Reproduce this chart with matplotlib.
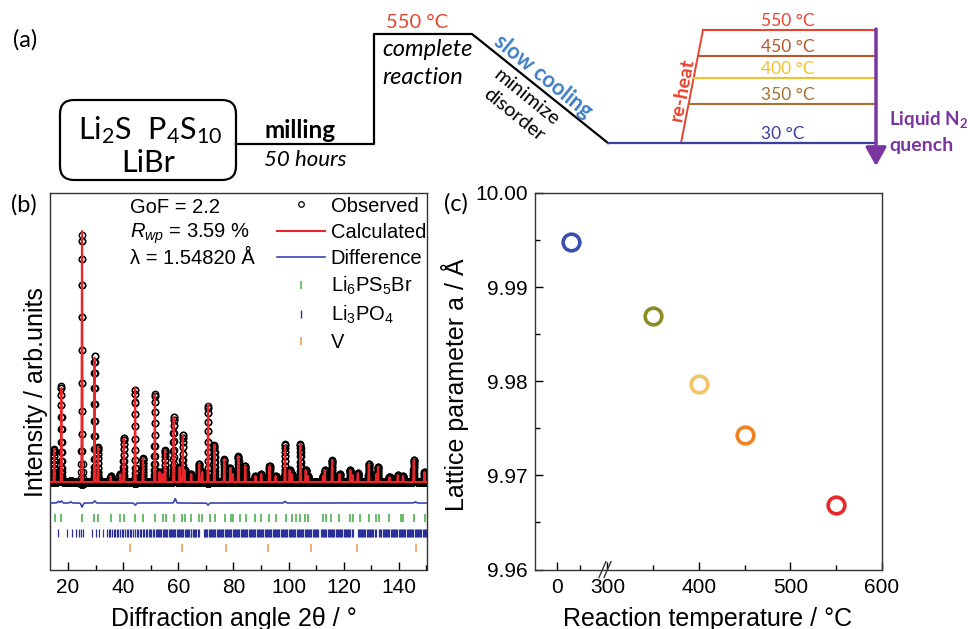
import numpy as np
import matplotlib
matplotlib.use('Agg')
import matplotlib.pyplot as plt
from matplotlib.lines import Line2D
from matplotlib.patches import FancyBboxPatch

plt.rcParams['font.family'] = ['Liberation Sans', 'DejaVu Sans']
plt.rcParams['mathtext.fontset'] = 'custom'
plt.rcParams['mathtext.rm'] = 'Liberation Sans'
plt.rcParams['mathtext.it'] = 'Liberation Sans:italic'
plt.rcParams['mathtext.bf'] = 'Liberation Sans:bold'

# ---- (b) refinement: peak positions (2theta) and heights (counts above background)
peak_pos = [15.0, 17.6, 25.1, 29.65, 30.9, 35.5, 39.0, 40.25, 44.35, 47.2, 51.5, 53.2,
            54.3, 55.2, 58.35, 60.5, 61.65, 62.3, 64.7, 67.6, 68.7, 70.8, 73.1, 76.7,
            78.9, 79.8, 81.8, 84.3, 88.0, 90.1, 93.1, 95.3, 98.7, 100.4, 101.2, 104.3,
            106.2, 107.0, 112.5, 113.1, 115.8, 118.5, 122.4, 123.3, 125.1, 129.1, 131.8,
            132.4, 136.6, 139.6, 141.5, 145.4, 149.3]
peak_height = [825, 2350, 6275, 3125, 875, 150, 200, 1100, 2375, 600, 2200, 250,
               200, 800, 1625, 375, 1175, 300, 200, 450, 250, 1950, 925, 575,
               350, 200, 650, 400, 150, 200, 400, 150, 900, 300, 200, 950,
               300, 150, 150, 300, 550, 200, 300, 175, 225, 450, 200,
               375, 125, 175, 150, 550, 250]
background = 1000
misfit_pos = [16.5, 17.6, 21.0, 25.1, 29.7, 44.4, 58.9, 70.8, 98.7, 146.0]
misfit_amp = [40, 50, 30, -100, 50, -50, 110, -50, 40, 30]
diff_level = 475

li6ps5br_ticks = [15.3, 17.5, 25.0, 29.6, 30.8, 35.5, 39.0, 40.2, 44.3, 47.2, 51.5, 54.3,
                  55.5, 58.4, 61.5, 62.3, 64.7, 67.5, 68.7, 71.4, 73.2, 76.8, 79.0, 79.8,
                  82.3, 84.7, 88.0, 90.1, 92.9, 95.3, 99.2, 101.2, 102.6, 104.0, 106.1,
                  107.0, 112.5, 113.7, 115.5, 118.2, 122.1, 123.3, 125.8, 129.0, 131.8,
                  132.7, 136.6, 140.6, 141.5, 145.5, 149.3]
li3po4_ticks = [16.3, 19.5, 21.4, 22.8, 23.9, 24.7, 25.6, 28.9, 30.3, 31.4, 32.6,
                34.1, 34.8, 35.3, 36.0, 36.6, 37.2, 37.9, 38.3, 38.9, 39.6, 40.1, 40.8,
                41.3, 41.9, 42.6, 43.0, 43.7, 44.2, 44.9, 45.5, 46.0, 46.4, 47.1, 47.6,
                48.2, 48.7, 49.3, 49.8, 50.2, 50.9, 51.3, 51.8, 52.2, 52.6, 53.1, 53.5,
                53.9, 54.4, 54.8, 55.3, 55.6, 56.1, 56.5, 56.9, 57.4, 57.8, 58.1, 58.6,
                59.0, 59.4, 59.9, 60.2, 60.7, 61.1, 61.5, 61.9, 62.4, 62.7, 63.2, 63.6,
                64.0, 64.5, 64.8, 65.3, 65.7, 66.1, 66.6, 67.0, 67.4,
                69.3, 69.7, 70.2, 70.5, 71.0, 71.4, 71.8, 72.3, 72.6, 73.1, 73.5, 73.9,
                74.3, 74.7, 75.2, 75.5, 76.0, 76.4, 76.8, 77.2, 77.6, 78.1, 78.4, 78.9,
                79.3, 79.7, 80.1, 80.5, 81.0, 81.3, 81.8, 82.2, 82.6, 83.0, 83.4, 83.9,
                84.2, 84.7, 85.1, 85.5, 85.9, 86.3, 86.8, 87.1, 87.6, 88.0, 88.4, 88.8,
                89.2, 89.7, 90.0, 90.5, 90.9, 91.3, 91.7, 92.1, 92.6, 92.9, 93.4, 93.8,
                94.2, 94.6, 95.0, 95.5, 95.8, 96.3, 96.7, 97.1, 97.5, 97.9, 98.4, 98.7,
                99.2, 99.6, 100.0, 100.4, 100.8, 101.3, 101.6, 102.1, 102.5, 102.9,
                103.3, 103.7, 104.2, 104.5, 105.0, 105.4, 105.8, 106.2, 106.6, 107.1,
                107.4, 107.9, 108.3, 108.7, 109.1, 109.5, 110.0, 110.3, 110.8, 111.6,
                112.0, 112.5, 112.9, 113.3, 113.7, 114.2, 114.5, 115.0, 115.4, 115.8,
                116.2, 116.6, 117.1, 117.4, 117.9, 118.3, 118.7, 119.1, 119.5, 120.0,
                120.3, 120.8, 121.2, 121.6, 122.0, 122.4, 122.9, 123.2, 125.0, 125.4,
                125.9, 126.2, 126.7, 127.1, 127.5, 127.9, 128.3, 128.8, 129.1, 129.6,
                130.0, 130.4, 130.8, 131.2, 131.6, 132.9, 133.3, 133.7, 134.1, 134.6,
                134.9, 135.4, 135.8, 136.2, 136.6, 137.0, 137.5, 137.8, 138.3, 138.7,
                139.1, 139.5, 139.9, 140.4, 140.7, 141.2, 141.6, 142.0, 142.4, 142.8,
                143.3, 143.6, 144.1, 144.5, 144.9, 145.3, 145.7, 146.2, 146.5, 147.0,
                147.4, 147.8, 148.2, 148.6, 149.1, 149.4, 149.9]
v_ticks = [42.4, 61.4, 77.4, 92.6, 108.0, 124.8, 146.1]

# ---- (c) lattice parameter vs reaction temperature
temps = [30, 350, 400, 450, 550]
lattice_a = [9.9948, 9.9869, 9.9797, 9.9743, 9.9669]
point_colors = ['#3a4fb0', '#8c8c28', '#f2c464', '#f08224', '#e8282a']

# ---- (a) schematic quench temperatures
quench_labels = ['550 °C', '450 °C', '400 °C', '350 °C', '30 °C']
quench_colors = ['#e8432e', '#b5582a', '#f2c12e', '#a7702f', '#3b3fa0']
quench_levels_px = [30, 56, 78, 104, 143]

fig = plt.figure(figsize=(9.68, 6.29), dpi=100)

# ================= panel (a), drawn in pixel coordinates
axa = fig.add_axes([0, 0, 1, 1])
axa.set_xlim(0, 968)
axa.set_ylim(629, 0)
axa.axis('off')
fa = 'Lato'

axa.text(25, 40, '(a)', family=fa, fontsize=17, ha='center', va='center')
axa.add_patch(FancyBboxPatch((60, 100), 176, 80, boxstyle='round,pad=0,rounding_size=14',
                             fill=False, lw=1.6, ec='k'))
axa.text(150, 130, r'$\mathregular{Li_2S\ \ P_4S_{10}}$', family=fa, fontsize=22,
         ha='center', va='center')
axa.text(148, 163, 'LiBr', family=fa, fontsize=22, ha='center', va='center')
axa.plot([236, 374, 374, 472, 608], [144, 144, 34, 34, 143], color='k', lw=1.6)
axa.text(264, 130, 'milling', family=fa, fontsize=17.5, fontweight='bold', va='center')
axa.text(264, 160, '50 hours', family=fa, fontsize=16, style='italic', va='center')
axa.text(417, 23, '550 °C', family=fa, fontsize=14.5, color='#e8432e', ha='center', va='center')
axa.text(382, 49, 'complete', family=fa, fontsize=17, style='italic', va='center')
axa.text(382, 77, 'reaction', family=fa, fontsize=17, style='italic', va='center')
axa.text(543, 76, 'slow cooling', family=fa, fontsize=15.5, fontweight='bold', color='#3f7fc2',
         ha='center', va='center', rotation=-39, rotation_mode='anchor')
axa.text(527, 97, 'minimize', family=fa, fontsize=14.5, ha='center', va='center',
         rotation=-39, rotation_mode='anchor')
axa.text(514, 115, 'disorder', family=fa, fontsize=14.5, ha='center', va='center',
         rotation=-39, rotation_mode='anchor')

# re-heat line and quench levels
x_bot, x_top, y_bot, y_top = 681, 703, 143, 30
axa.plot([608, 876], [143, 143], color=quench_colors[-1], lw=1.6)
axa.plot([x_bot, x_top], [y_bot, y_top], color='#e8432e', lw=1.4)
for lab, col, yl in zip(quench_labels, quench_colors, quench_levels_px):
    xs = x_bot + (y_bot - yl) * (x_top - x_bot) / (y_bot - y_top)
    axa.plot([xs, 876], [yl, yl], color=col, lw=1.5)
    axa.text(788 if lab != '30 °C' else 783, yl - 9, lab, family=fa, fontsize=12.5,
             color=col, ha='center', va='center')
axa.text(682, 90, 're-heat', family=fa, fontsize=14, fontweight='bold', color='#e8432e',
         ha='center', va='center', rotation=79)
axa.annotate('', xy=(876, 166), xytext=(876, 29),
             arrowprops=dict(arrowstyle='-|>,head_width=0.45,head_length=0.8',
                             color='#7a35a0', lw=2.5, shrinkA=0, shrinkB=0,
                             mutation_scale=14))
axa.text(889, 120, r'Liquid $\mathregular{N_2}$', family=fa, fontsize=13.5, fontweight='bold',
         color='#7a35a0', va='center')
axa.text(889, 146, 'quench', family=fa, fontsize=14, fontweight='bold', color='#7a35a0',
         va='center')
axa.text(24, 205, '(b)', family=fa, fontsize=17, ha='center', va='center')
axa.text(456, 204, '(c)', family=fa, fontsize=17, ha='center', va='center')

# ================= panel (b)
axb = fig.add_axes([50 / 968, 1 - 569.5 / 629, 377 / 968, 376.5 / 629])
tt = np.arange(13.5, 150.0, 0.02)
calc = background + sum(h * np.exp(-0.5 * ((tt - p) / 0.09) ** 2)
                        for p, h in zip(peak_pos, peak_height))
misfit = sum(a * np.exp(-0.5 * ((tt - p) / 0.3) ** 2) for p, a in zip(misfit_pos, misfit_amp))
obs = calc + misfit
diff = diff_level + (obs - calc)

axb.plot(tt, obs, 'o', mfc='none', mec='k', ms=4.6, mew=1.0, zorder=2)
axb.plot(tt, calc, color='#e8262a', lw=1.5, zorder=3)
axb.plot(tt, diff, color='#3a46b0', lw=1.2, zorder=3)
axb.vlines(li6ps5br_ticks, 100 - 110, 100 + 110, color='#5cb85c', lw=1.3)
axb.vlines(li3po4_ticks, -275 - 110, -275 + 110, color='#2b2f9a', lw=0.9)
axb.vlines(v_ticks, -650 - 100, -650 + 100, color='#f0a050', lw=1.2)

axb.set_xlim(13.5, 150.2)
axb.set_ylim(-1187, 8225)
axb.set_yticks([])
axb.set_xticks(np.arange(20, 141, 20))
axb.set_xticks(np.arange(30, 151, 20), minor=True)
axb.tick_params(axis='x', which='both', direction='in', labelsize=15, pad=6)
axb.tick_params(axis='x', which='major', length=6, width=1)
axb.tick_params(axis='x', which='minor', length=3.5, width=1)
for s in axb.spines.values():
    s.set_color('#333333')
    s.set_linewidth(1)
axb.set_xlabel('Diffraction angle 2θ / °', fontsize=18)
axb.set_ylabel('Intensity / arb.units', fontsize=18)
axb.xaxis.set_label_coords(0.487, -0.099)
axb.yaxis.set_label_coords(-0.005, 0.47)

txt = dict(transform=axb.transAxes, fontsize=14.5, va='center', ha='left')
axb.text(0.212, 0.962, 'GoF = 2.2', **txt)
axb.text(0.212, 0.893, r'$R_{wp}$ = 3.59 %', **txt)
axb.text(0.212, 0.825, 'λ = 1.54820 Å', **txt)

handles = [Line2D([], [], ls='none', marker='o', mfc='none', mec='k', ms=4, mew=0.9),
           Line2D([], [], color='#e8262a', lw=1.5),
           Line2D([], [], color='#3a46b0', lw=1.2),
           Line2D([], [], ls='none', marker='|', color='#5cb85c', ms=6, mew=1.2),
           Line2D([], [], ls='none', marker='|', color='#2b2f9a', ms=6, mew=1.0),
           Line2D([], [], ls='none', marker='|', color='#f0a050', ms=6, mew=1.2)]
labels = ['Observed', 'Calculated', 'Difference', r'Li$_6$PS$_5$Br', r'Li$_3$PO$_4$', 'V']
axb.legend(handles, labels, loc='upper right', bbox_to_anchor=(1.003, 0.996), frameon=False,
           fontsize=14.5, handlelength=2.35, handletextpad=0.3, labelspacing=0.35,
           borderpad=0.1, borderaxespad=0)

# ================= panel (c)
def fwd(t):
    t = np.asarray(t, float)
    return np.where(t <= 100, 245 + 0.5 * t, np.where(t <= 300, 295 + (t - 100) * 0.025, t))


def inv(u):
    u = np.asarray(u, float)
    return np.where(u <= 295, (u - 245) / 0.5, np.where(u <= 300, 100 + (u - 295) / 0.025, u))


axc = fig.add_axes([535 / 968, 1 - 569.5 / 629, 347 / 968, 376.5 / 629])
axc.set_xscale('function', functions=(fwd, inv))
for t, a, c in zip(temps, lattice_a, point_colors):
    axc.plot(t, a, 'o', mfc='none', mec=c, ms=12, mew=2.6, clip_on=False)
axc.set_xlim(-48, 600)
axc.set_ylim(9.96, 10.00)
axc.set_xticks([0, 300, 400, 500, 600])
axc.set_xticklabels(['0', '300', '400', '500', '600'])
axc.set_xticks([50, 350, 450, 550], minor=True)
axc.set_yticks([9.96, 9.97, 9.98, 9.99, 10.00])
axc.set_yticklabels(['9.96', '9.97', '9.98', '9.99', '10.00'])
axc.set_yticks([9.965, 9.975, 9.985, 9.995], minor=True)
axc.tick_params(which='both', direction='in', labelsize=15)
axc.tick_params(axis='x', pad=6)
axc.tick_params(axis='y', pad=5)
axc.tick_params(which='major', length=6, width=1)
axc.tick_params(which='minor', length=3.5, width=1)
for s in axc.spines.values():
    s.set_color('#333333')
    s.set_linewidth(1)
axc.set_xlabel('Reaction temperature / °C', fontsize=18)
axc.set_ylabel('Lattice parameter a / Å', fontsize=18)
axc.xaxis.set_label_coords(0.4986, -0.099)
axc.yaxis.set_label_coords(-0.19, 0.491)

# axis break marks
for xb in (0.1945, 0.209):
    axc.plot([xb - 0.01, xb + 0.01], [-0.021, 0.021], color='#333333', lw=1,
             transform=axc.transAxes, clip_on=False)

fig.savefig('out.png', dpi=100)
